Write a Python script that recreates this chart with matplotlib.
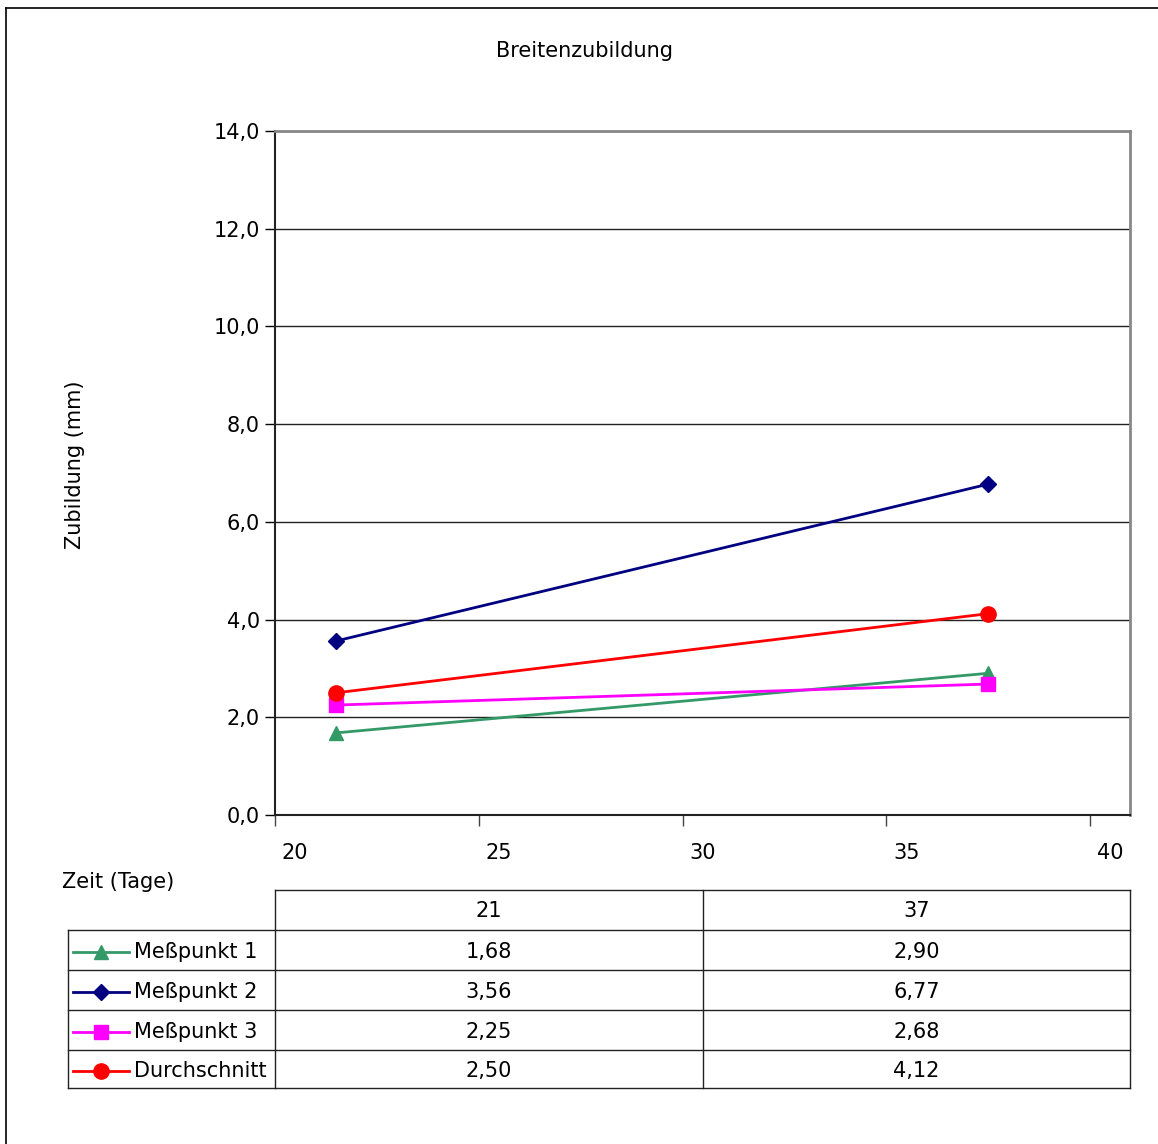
import matplotlib.pyplot as plt
from matplotlib.lines import Line2D

days = [21, 37]
series_names = ['Meßpunkt 1', 'Meßpunkt 2', 'Meßpunkt 3', 'Durchschnitt']
mp1 = [1.68, 2.90]
mp2 = [3.56, 6.77]
mp3 = [2.25, 2.68]
avg = [2.50, 4.12]
x_ticks = [20, 25, 30, 35, 40]
y_ticks = [0, 2, 4, 6, 8, 10, 12, 14]

series = [mp1, mp2, mp3, avg]
colors = ['#339966', '#000080', '#ff00ff', '#ff0000']
markers = ['^', 'D', 's', 'o']
msizes = [10, 8, 10, 11]

plt.rcParams['font.family'] = 'DejaVu Sans'
W, H = 1158, 1144
fig = plt.figure(figsize=(W / 100, H / 100), dpi=100)

def fx(px):
    return px / W

def fy(py):
    return 1 - py / H

ax = fig.add_axes([fx(275), fy(815), fx(1130) - fx(275), fy(131) - fy(815)])
ax.set_xlim(19.51, 40.49)
ax.set_ylim(0, 14)

for vals, c, m, ms in zip(series, colors, markers, msizes):
    ax.plot(days, vals, color=c, marker=m, markersize=ms, lw=2, clip_on=False, zorder=3)

ax.set_yticks(y_ticks)
ax.set_yticklabels([f'{v:.1f}'.replace('.', ',') for v in y_ticks], fontsize=15)
ax.yaxis.grid(True, color='#222222', lw=1)
ax.set_axisbelow(True)
ax.tick_params(axis='y', direction='out', length=7, width=1, pad=4)

# labels sit half a unit right of the tick marks, as in the original
ax.set_xticks(x_ticks)
ax.set_xticklabels([str(v) for v in x_ticks], fontsize=15)
ax.tick_params(axis='x', which='major', length=0, pad=20)
ax.set_xticks([v - 0.49 for v in x_ticks], minor=True)
ax.tick_params(axis='x', which='minor', direction='out', length=8, width=1, color='#444444')

for s in ['top', 'right']:
    ax.spines[s].set_color('#888888')
    ax.spines[s].set_linewidth(2)
for s in ['left', 'bottom']:
    ax.spines[s].set_color('#222222')
    ax.spines[s].set_linewidth(1.5)

fig.text(fx(585), fy(51), 'Breitenzubildung', ha='center', va='center', fontsize=15)
fig.text(fx(75), fy(465), 'Zubildung (mm)', ha='center', va='center', rotation=90, fontsize=15)
fig.text(fx(62), fy(882), 'Zeit (Tage)', ha='left', va='center', fontsize=15)

# outer border
fig.add_artist(Line2D([fx(6), fx(6)], [fy(8), 0], color='black', lw=1.2))
fig.add_artist(Line2D([fx(6), 1], [fy(8), fy(8)], color='black', lw=1.2))

# data table
col_x = [68, 275, 703, 1130]
row_y = [890, 930, 970, 1010, 1050, 1088]
tc = '#222222'
fig.add_artist(Line2D([fx(275), fx(1130)], [fy(890), fy(890)], color=tc, lw=1))
for yy in row_y[1:]:
    fig.add_artist(Line2D([fx(68), fx(1130)], [fy(yy), fy(yy)], color=tc, lw=1))
fig.add_artist(Line2D([fx(68), fx(68)], [fy(930), fy(1088)], color=tc, lw=1))
for xx in col_x[1:]:
    fig.add_artist(Line2D([fx(xx), fx(xx)], [fy(890), fy(1088)], color=tc, lw=1))

for j, d in enumerate(days):
    cx = (col_x[j + 1] + col_x[j + 2]) / 2
    fig.text(fx(cx), fy(911), str(d), ha='center', va='center', fontsize=15)

for i, (name, vals, c, m, ms) in enumerate(zip(series_names, series, colors, markers, msizes)):
    cy = (row_y[i + 1] + row_y[i + 2]) / 2 + 2
    fig.add_artist(Line2D([fx(73), fx(129)], [fy(cy), fy(cy)], color=c, lw=2))
    fig.add_artist(Line2D([fx(101)], [fy(cy)], color=c, marker=m, markersize=ms, lw=0))
    fig.text(fx(134), fy(cy), name, ha='left', va='center', fontsize=15)
    for j, v in enumerate(vals):
        cx = (col_x[j + 1] + col_x[j + 2]) / 2
        fig.text(fx(cx), fy(cy), f'{v:.2f}'.replace('.', ','), ha='center', va='center', fontsize=15)

fig.savefig('out.png', dpi=100)
